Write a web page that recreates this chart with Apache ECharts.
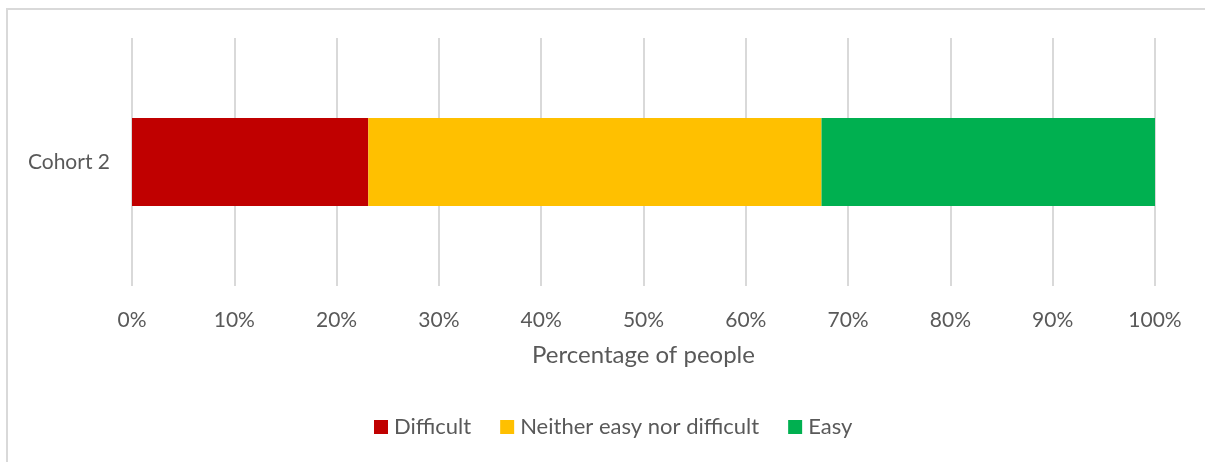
<!DOCTYPE html>
<html><head><meta charset="utf-8">
<script src="https://cdn.jsdelivr.net/npm/echarts@6/dist/echarts.min.js"></script>
<style>html,body{margin:0;padding:0;background:#fff}#c{width:1205px;height:462px}</style>
</head><body><div id="c"></div>
<script>
const categories = ['Cohort 2'];
const seriesNames = ['Difficult', 'Neither easy nor difficult', 'Easy'];
const difficult = [23.1];
const neither = [44.3];
const easy = [32.6];
const colors = ['#C00000', '#FFC000', '#00B050'];
const FONT = 'Lato';
const chart = echarts.init(document.getElementById('c'));
const mk = (name, data, color) => ({
  name, type: 'bar', stack: 'total', data, barWidth: 88,
  itemStyle: { color }
});
chart.setOption({
  animation: false,
  textStyle: { fontFamily: FONT },
  graphic: [{ type: 'rect', shape: { x: 7, y: 9, width: 1300, height: 500 },
    style: { fill: 'none', stroke: '#d9d9d9', lineWidth: 2 }, silent: true }],
  grid: { left: 132, right: 50, top: 38, height: 248 },
  xAxis: {
    type: 'value', min: 0, max: 100, interval: 10,
    axisLine: { show: false }, axisTick: { show: false },
    splitLine: { lineStyle: { color: '#d9d9d9', width: 2 } },
    axisLabel: { formatter: '{value}%', color: '#595959', fontSize: 21, margin: 24, fontFamily: FONT },
    name: 'Percentage of people', nameLocation: 'middle', nameGap: 57,
    nameTextStyle: { color: '#595959', fontSize: 24, fontFamily: FONT }
  },
  yAxis: {
    type: 'category', data: categories,
    axisLine: { show: false }, axisTick: { show: false },
    axisLabel: { color: '#595959', fontSize: 21, margin: 22, fontFamily: FONT }
  },
  legend: {
    bottom: 19, left: 369, itemWidth: 14, itemHeight: 14, itemGap: 29,
    icon: 'rect', data: seriesNames,
    textStyle: { color: '#595959', fontSize: 22, fontFamily: FONT, padding: [0, 0, 0, 1] }
  },
  series: [mk(seriesNames[0], difficult, colors[0]), mk(seriesNames[1], neither, colors[1]), mk(seriesNames[2], easy, colors[2])]
});
</script></body></html>
